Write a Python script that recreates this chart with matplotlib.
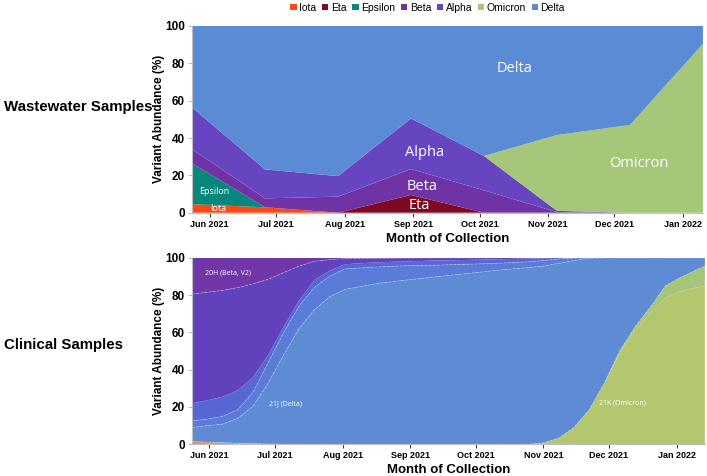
import numpy as np
import matplotlib
matplotlib.use("Agg")
import matplotlib.pyplot as plt
import matplotlib.dates as mdates
from matplotlib.patches import Patch
from datetime import date

plt.rcParams['font.family'] = ['Liberation Sans', 'DejaVu Sans']

# ---------------- Wastewater data ----------------
ww_dates = ["2021-05-24", "2021-06-26", "2021-07-29", "2021-08-31",
            "2021-10-03", "2021-11-05", "2021-12-08", "2022-01-10"]
ww_iota    = [4.6, 2.9, 0, 0, 0, 0, 0, 0]
ww_eta     = [0, 0, 0, 9.5, 0, 0, 0, 0]
ww_epsilon = [21.8, 0, 0, 0, 0, 0, 0, 0]
ww_beta    = [7.6, 4.8, 8.6, 13.9, 12.0, 0.3, 0, 0]
ww_alpha   = [22.4, 15.5, 11.0, 27.1, 18.4, 0.7, 0, 0]
ww_omicron = [0, 0, 0, 0, 0, 40.6, 47.0, 90.4]
ww_names = ["Iota", "Eta", "Epsilon", "Beta", "Alpha", "Omicron", "Delta"]

# ---------------- Clinical data ----------------
cl_dates = ["2021-05-24", "2021-05-31", "2021-06-07", "2021-06-14", "2021-06-21",
            "2021-06-28", "2021-07-05", "2021-07-12", "2021-07-19", "2021-07-26",
            "2021-08-02", "2021-08-16", "2021-08-30", "2021-09-13", "2021-09-27",
            "2021-10-11", "2021-10-25", "2021-11-01", "2021-11-08", "2021-11-15",
            "2021-11-22", "2021-11-29", "2021-12-06", "2021-12-13", "2021-12-20",
            "2021-12-27", "2022-01-03", "2022-01-10", "2022-01-14"]
cl_other = [1.5, 1.2, 0.9, 0.6, 0.4, 0.2, 0.1, 0, 0, 0, 0, 0, 0, 0, 0, 0, 0,
            0, 0, 0, 0, 0, 0, 0, 0, 0, 0, 0, 0]
cl_21K = [0, 0, 0, 0, 0, 0, 0, 0, 0, 0, 0, 0, 0, 0, 0, 0, 0,
          0.8, 3.3, 9.0, 18.5, 33.0, 49.0, 61.0, 70.5, 78.5, 82.0, 84.0, 84.8]
cl_21L = [0, 0, 0, 0, 0, 0, 0, 0, 0, 0, 0, 0, 0, 0, 0, 0, 0,
          0, 0, 0, 0, 0, 1.0, 2.0, 3.0, 6.5, 7.5, 9.4, 10.7]
cl_21J = [7.5, 8.8, 9.9, 13.4, 20.1, 32.8, 47.9, 62.0, 72.0, 79.0,
          83.0, 86.0, 88.0, 89.8, 91.5, 93.3, 94.7, 94.7, 93.7, 89.5,
          81.2, 67.0, 50.0, 37.0, 26.5, 15.0, 10.5, 6.6, 4.5]
cl_21I = [3.5, 3.5, 4.2, 4.5, 7.5, 11.0, 12.0, 12.0, 12.0, 11.0,
          11.0, 9.0, 7.7, 6.2, 5.0, 3.7, 3.1, 3.0, 2.3, 1.3,
          0.3, 0, 0, 0, 0, 0, 0, 0, 0]
cl_21A = [9.5, 10.0, 10.5, 10.5, 8.0, 4.0, 3.0, 3.0, 4.0, 3.0,
          2.5, 2.5, 2.3, 2.5, 2.3, 2.2, 1.7, 1.2, 0.7, 0.2,
          0, 0, 0, 0, 0, 0, 0, 0, 0]
cl_20I = [58.5, 58.0, 57.0, 55.0, 50.0, 40.5, 29.0, 18.5, 10.0, 6.0,
          3.0, 2.2, 1.8, 1.4, 1.1, 0.8, 0.5, 0.3, 0, 0,
          0, 0, 0, 0, 0, 0, 0, 0, 0]
cl_20H = [19.5, 18.5, 17.5, 16.0, 14.0, 11.5, 8.0, 4.5, 2.0, 1.0,
          0.5, 0.3, 0.2, 0.1, 0.1, 0, 0, 0, 0, 0,
          0, 0, 0, 0, 0, 0, 0, 0, 0]

y_ticks = [0, 20, 40, 60, 80, 100]

# ---------------- styling ----------------
ww_colors = {"Iota": "#FA4A14", "Eta": "#7E0A22", "Epsilon": "#05877C",
             "Beta": "#7033A6", "Alpha": "#6744C0", "Omicron": "#A6C77A",
             "Delta": "#5C8BD5"}
cl_colors = ["#E8935A", "#B4C66E", "#A5C678", "#5E8BD4", "#5A7CD8",
             "#5867D4", "#6242BC", "#7136A8"]

fig = plt.figure(figsize=(7.07, 4.76), dpi=100)
ax1 = fig.add_axes([0.2716, 0.5531, 0.7227, 0.3923])
ax2 = fig.add_axes([0.2716, 0.0666, 0.7254, 0.3920])


def style_axis(ax):
    ax.set_ylim(0, 100)
    ax.set_yticks(y_ticks)
    for s in ["top", "right"]:
        ax.spines[s].set_visible(False)
    for s in ["left", "bottom"]:
        ax.spines[s].set_color("#BFBFBF")
        ax.spines[s].set_linewidth(0.8)
    ax.xaxis.set_major_locator(mdates.MonthLocator())
    ax.xaxis.set_major_formatter(mdates.DateFormatter("%b %Y"))
    ax.tick_params(axis="x", labelsize=6.5, length=3, color="#404040", pad=2)
    ax.tick_params(axis="y", labelsize=8.5, length=3, color="#BFBFBF", pad=2)
    for lab in ax.get_xticklabels() + ax.get_yticklabels():
        lab.set_fontweight("bold")
    ax.set_ylabel("Variant Abundance (%)", fontsize=8.5, fontweight="bold", labelpad=0.5)
    ax.set_xlabel("Month of Collection", fontsize=9.5, fontweight="bold", labelpad=3)


# ---- top panel ----
wd = [np.datetime64(d) for d in ww_dates]
ww_delta = 100 - (np.array(ww_iota) + np.array(ww_eta) + np.array(ww_epsilon)
                  + np.array(ww_beta) + np.array(ww_alpha) + np.array(ww_omicron))
ww_series = [ww_iota, ww_eta, ww_epsilon, ww_beta, ww_alpha, ww_omicron, ww_delta]
ax1.stackplot(wd, *ww_series, colors=[ww_colors[n] for n in ww_names],
              linewidth=0)
ax1.set_xlim(wd[0], wd[-1])
style_axis(ax1)

lab_font = ['Open Sans', 'DejaVu Sans']
ax1.text(np.datetime64("2021-10-17"), 77.5, "Delta", color="white", fontsize=10.5,
         ha="center", va="center", family=lab_font)
ax1.text(np.datetime64("2021-09-06"), 32.5, "Alpha", color="white", fontsize=10.5,
         ha="center", va="center", family=lab_font)
ax1.text(np.datetime64("2021-09-05"), 13.8, "Beta", color="white", fontsize=10.5,
         ha="center", va="center", family=lab_font)
ax1.text(np.datetime64("2021-09-04"), 4, "Eta", color="white", fontsize=10.5,
         ha="center", va="center", family=lab_font)
ax1.text(np.datetime64("2021-12-12"), 26.6, "Omicron", color="white", fontsize=10.5,
         ha="center", va="center", family=lab_font)
ax1.text(np.datetime64("2021-06-03"), 11.6, "Epsilon", color="white", fontsize=6.5,
         ha="center", va="center", family=lab_font)
ax1.text(np.datetime64("2021-06-05"), 2.3, "Iota", color="white", fontsize=6.5,
         ha="center", va="center", family=lab_font)

handles = [Patch(facecolor=ww_colors[n], edgecolor="none", label=n) for n in ww_names]
fig.legend(handles=handles, loc="center", bbox_to_anchor=(0.605, 0.984), ncol=7,
           frameon=False, fontsize=7.5, handlelength=0.6, handleheight=0.6,
           handletextpad=0.25, columnspacing=0.55, borderaxespad=0)

# ---- bottom panel ----
cd = [np.datetime64(d) for d in cl_dates]
cl_series = [cl_other, cl_21K, cl_21L, cl_21J, cl_21I, cl_21A, cl_20I, cl_20H]
ax2.stackplot(cd, *cl_series, colors=cl_colors, linewidth=0)
cum = np.cumsum(np.array(cl_series, dtype=float), axis=0)
for i in [2, 3, 4, 6]:
    ax2.plot(cd, cum[i], color="white", lw=0.6, ls=(0, (3, 2)), alpha=0.35)
ax2.set_xlim(cd[0], cd[-1])
style_axis(ax2)

small_font = ['Open Sans', 'DejaVu Sans']
ax2.annotate("20H (Beta, V2)", xy=(0.0, 0.92), xycoords="axes fraction",
             xytext=(0.025, 0.92), textcoords="axes fraction", color="white",
             fontsize=5, ha="left", va="center", family=small_font)
ax2.text(np.datetime64("2021-07-06"), 22, "21J (Delta)", color="white",
         fontsize=5, ha="center", va="center", family=small_font)
ax2.text(np.datetime64("2021-12-07"), 22, "21K (Omicron)", color="white",
         fontsize=5, ha="center", va="center", family=small_font)

# ---- side labels ----
fig.text(0.005, 1 - 107 / 476, "Wastewater Samples", fontsize=10.8,
         fontweight="bold", ha="left", va="center")
fig.text(0.005, 1 - 345 / 476, "Clinical Samples", fontsize=10.8,
         fontweight="bold", ha="left", va="center")

fig.savefig("out.png", dpi=100)
